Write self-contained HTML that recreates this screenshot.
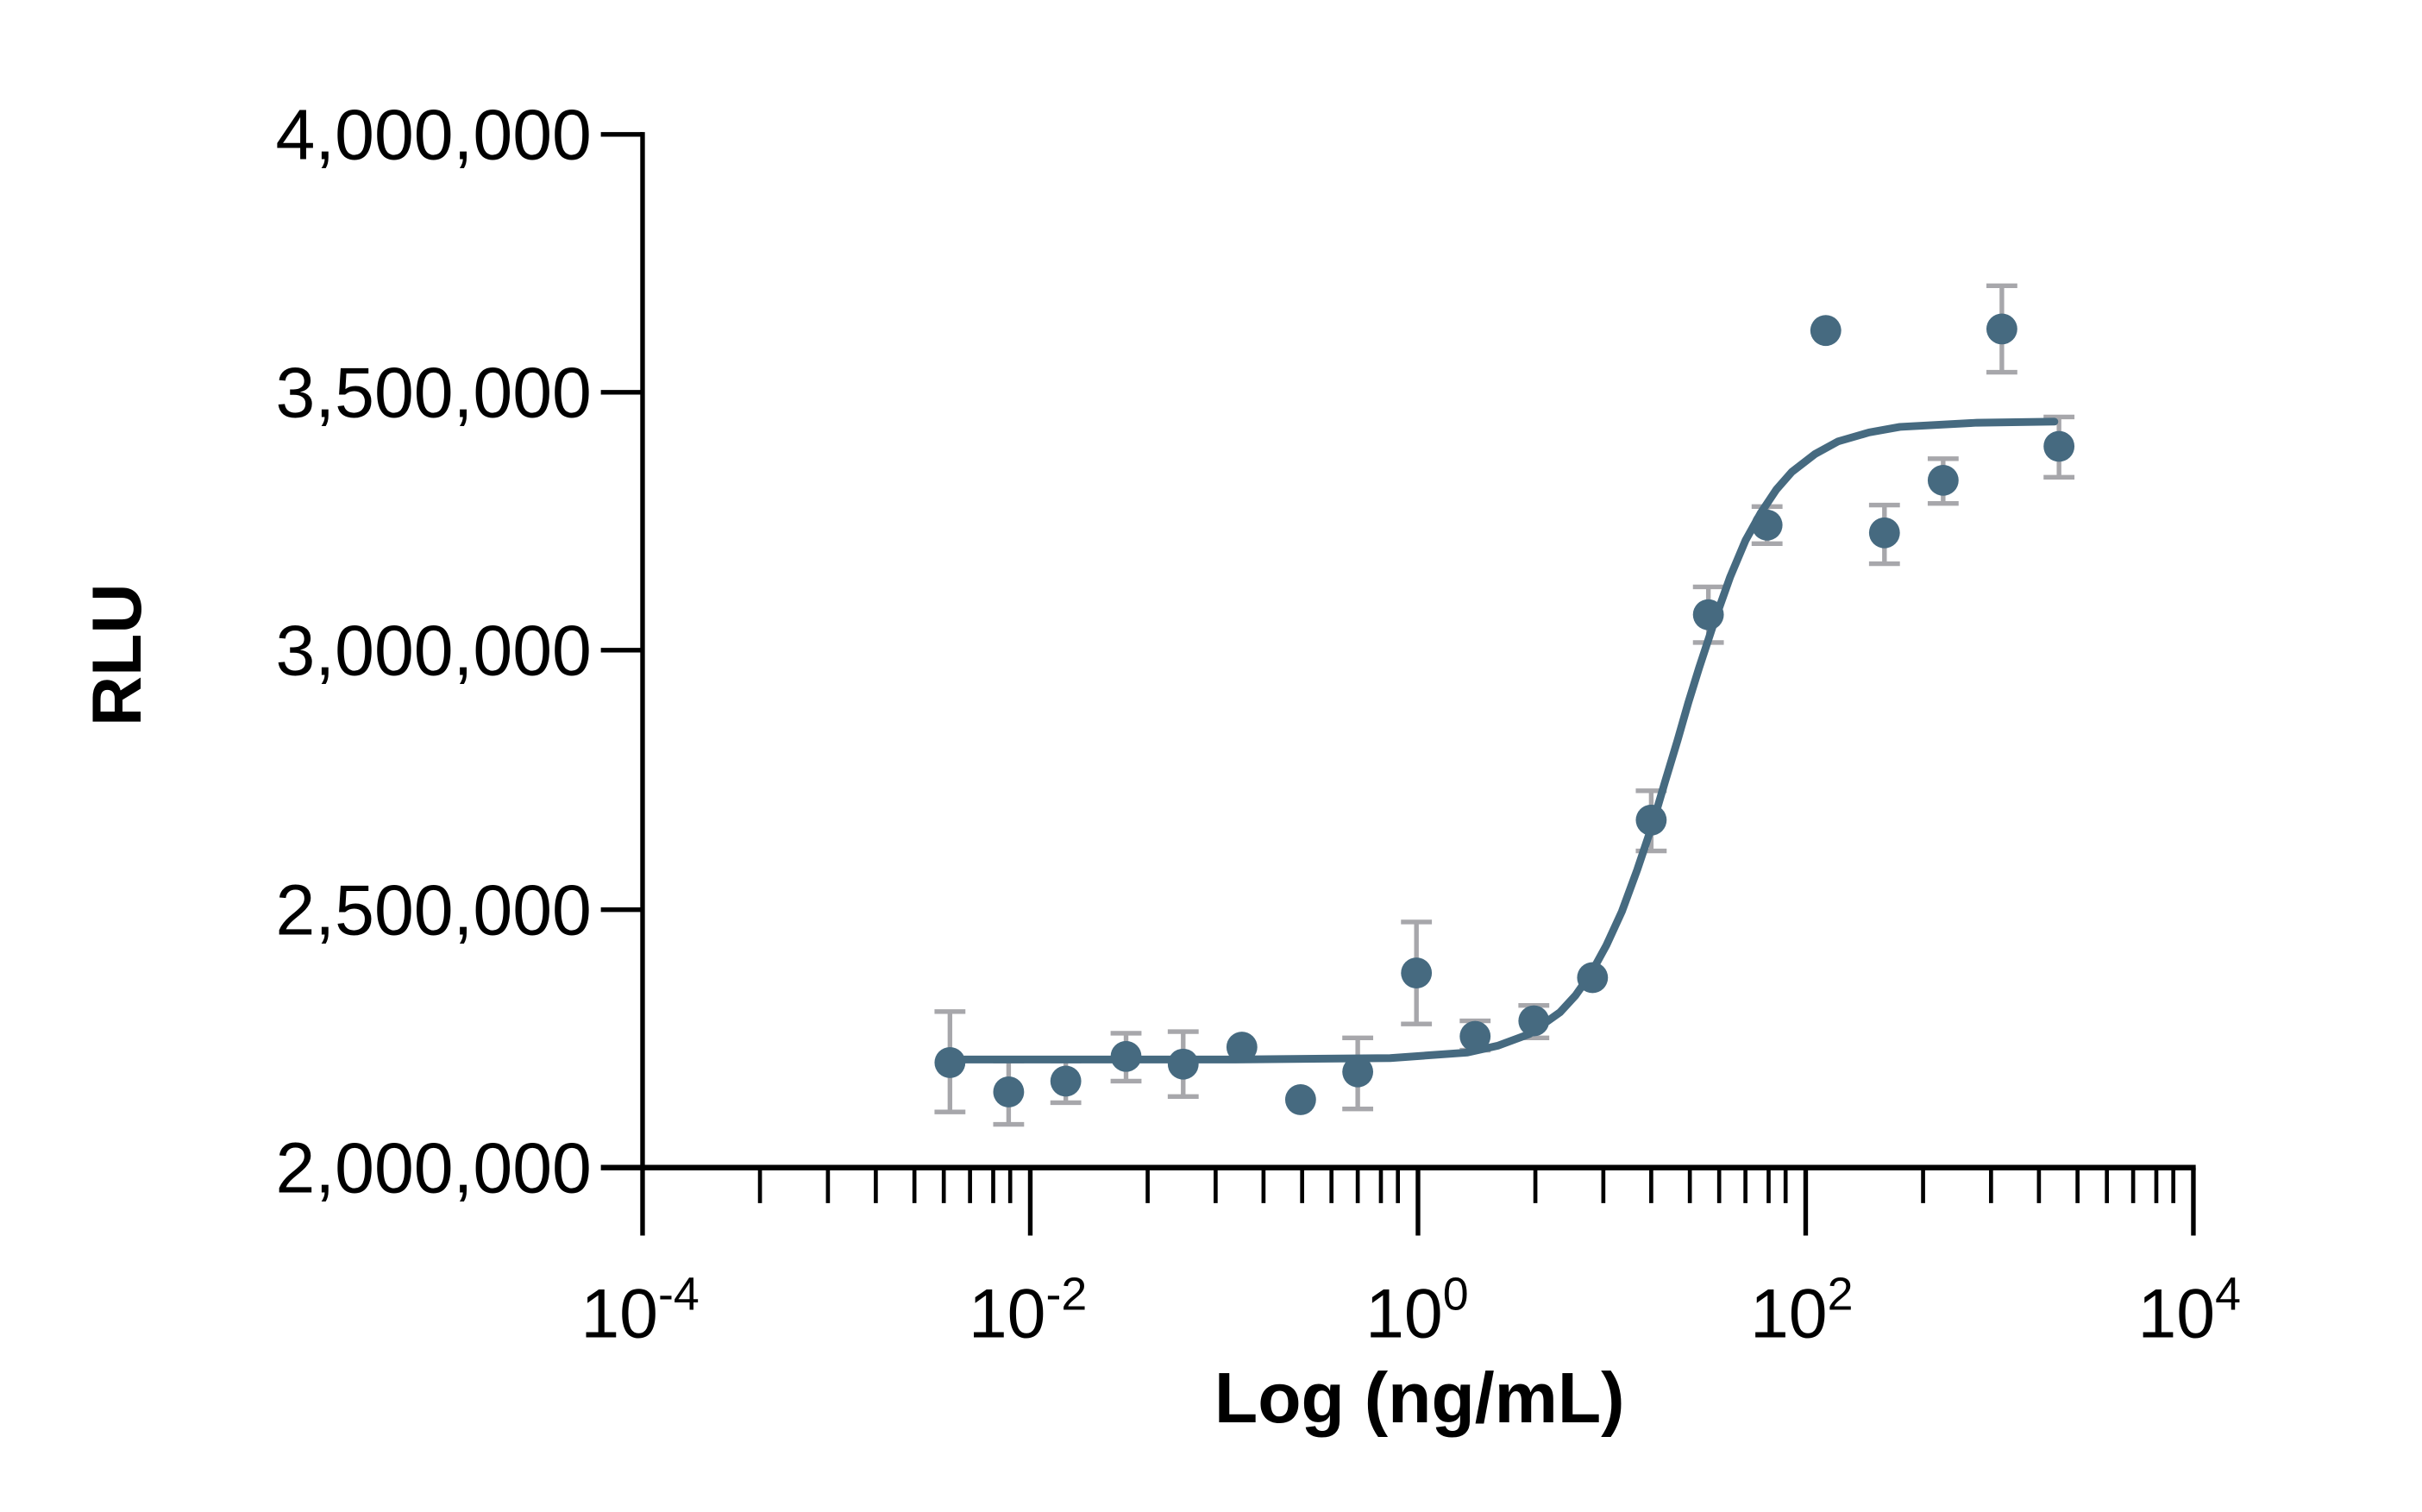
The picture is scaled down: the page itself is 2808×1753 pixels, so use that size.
<!DOCTYPE html>
<html><head><meta charset="utf-8"><style>
html,body{margin:0;padding:0;background:#fff;}
svg{display:block;}
text{font-family:"Liberation Sans",Arial,sans-serif;fill:#000;}
</style></head><body>
<svg width="2808" height="1753" viewBox="0 0 1568 979" preserveAspectRatio="none" xmlns="http://www.w3.org/2000/svg">
<rect width="1568" height="979" fill="#fff"/>
<!-- axes -->
<g stroke="#000" stroke-width="3" fill="none">
<line x1="416" y1="85.5" x2="416" y2="800"/>
<line x1="389" y1="756" x2="1421.5" y2="756" stroke-width="3.6"/>
<line x1="389" y1="87" x2="416" y2="87"/>
<line x1="389" y1="254" x2="416" y2="254"/>
<line x1="389" y1="421" x2="416" y2="421"/>
<line x1="389" y1="589" x2="416" y2="589"/>
<!-- major x ticks -->
<line x1="667" y1="756" x2="667" y2="800"/>
<line x1="918" y1="756" x2="918" y2="800"/>
<line x1="1169" y1="756" x2="1169" y2="800"/>
<line x1="1420" y1="756" x2="1420" y2="800"/>
</g>
<g stroke="#000" stroke-width="2.6" fill="none" id="minor">
<!-- decade 1 -->
<path d="M492 756V779M536 756V779M567 756V779M592 756V779M611 756V779M628 756V779M643 756V779M654 756V779
M743 756V779M787 756V779M818 756V779M843 756V779M862 756V779M879 756V779M894 756V779M905 756V779
M994 756V779M1038 756V779M1069 756V779M1094 756V779M1113 756V779M1130 756V779M1145 756V779M1156 756V779
M1245 756V779M1289 756V779M1320 756V779M1345 756V779M1364 756V779M1381 756V779M1396 756V779M1407 756V779"/>
</g>
<!-- y labels -->
<g font-size="46" text-anchor="end">
<text x="383" y="103">4,000,000</text>
<text x="383" y="270">3,500,000</text>
<text x="383" y="437">3,000,000</text>
<text x="383" y="605">2,500,000</text>
<text x="383" y="772">2,000,000</text>
</g>
<!-- x labels -->
<g font-size="45">
<text x="376" y="866">10<tspan font-size="30" dy="-18">-4</tspan></text>
<text x="627" y="866">10<tspan font-size="30" dy="-18">-2</tspan></text>
<text x="884" y="866">10<tspan font-size="30" dy="-18">0</tspan></text>
<text x="1133" y="866">10<tspan font-size="30" dy="-18">2</tspan></text>
<text x="1384" y="866">10<tspan font-size="30" dy="-18">4</tspan></text>
</g>
<text x="919" y="921" font-size="46" font-weight="bold" text-anchor="middle">Log (ng/mL)</text>
<text transform="translate(91,424) rotate(-90)" font-size="45" font-weight="bold" text-anchor="middle">RLU</text>
<!-- error bars -->
<g stroke="#a7a7ab" stroke-width="3" fill="none">
<path d="M615 655V720M605 655H625M605 720H625"/>
<path d="M653 687V728M643 687H663M643 728H663"/>
<path d="M690 687V714M680 687H700M680 714H700"/>
<path d="M729 669V700M719 669H739M719 700H739"/>
<path d="M766 668V710M756 668H776M756 710H776"/>
<path d="M879 672V718M869 672H889M869 718H889"/>
<path d="M917 597V663M907 597H927M907 663H927"/>
<path d="M955 661V680M945 661H965M945 680H965"/>
<path d="M993 651V672M983 651H1003M983 672H1003"/>
<path d="M1069 512V551M1059 512H1079M1059 551H1079"/>
<path d="M1106 380V416M1096 380H1116M1096 416H1116"/>
<path d="M1144 328V352M1134 328H1154M1134 352H1154"/>
<path d="M1220 327V365M1210 327H1230M1210 365H1230"/>
<path d="M1258 297V326M1248 297H1268M1248 326H1268"/>
<path d="M1296 185V241M1286 185H1306M1286 241H1306"/>
<path d="M1333 270V309M1323 270H1343M1323 309H1343"/>
</g>
<!-- curve -->
<polyline fill="none" stroke="#466a80" stroke-width="5" stroke-linejoin="round" stroke-linecap="round"
points="615,686 800,686 900,685.1 950,681.5 970,677 990,669.6 1010,655.4 1020,644.5 1030,630.3 1040,612 1050,590.2 1060,563 1070,533.2 1078,506 1086,479.5 1093,455 1100,432.4 1110,402 1120,373.8 1130,350 1140,332 1150,317 1160,305.6 1175,294 1190,285.8 1210,280 1230,276.4 1280,273.7 1330,273"/>
<!-- points -->
<g fill="#466a80">
<circle cx="615" cy="688" r="10"/>
<circle cx="653" cy="707" r="10"/>
<circle cx="690" cy="700" r="10"/>
<circle cx="729" cy="684" r="10"/>
<circle cx="766" cy="689" r="10"/>
<circle cx="804" cy="678" r="10"/>
<circle cx="842" cy="712" r="10"/>
<circle cx="879" cy="694" r="10"/>
<circle cx="917" cy="630" r="10"/>
<circle cx="955" cy="671" r="10"/>
<circle cx="993" cy="661" r="10"/>
<circle cx="1031" cy="633" r="10"/>
<circle cx="1069" cy="531" r="10"/>
<circle cx="1106" cy="398" r="10"/>
<circle cx="1144" cy="340" r="10"/>
<circle cx="1182" cy="214" r="10"/>
<circle cx="1220" cy="345" r="10"/>
<circle cx="1258" cy="311" r="10"/>
<circle cx="1296" cy="213" r="10"/>
<circle cx="1333" cy="289" r="10"/>
</g>
</svg>
</body></html>
